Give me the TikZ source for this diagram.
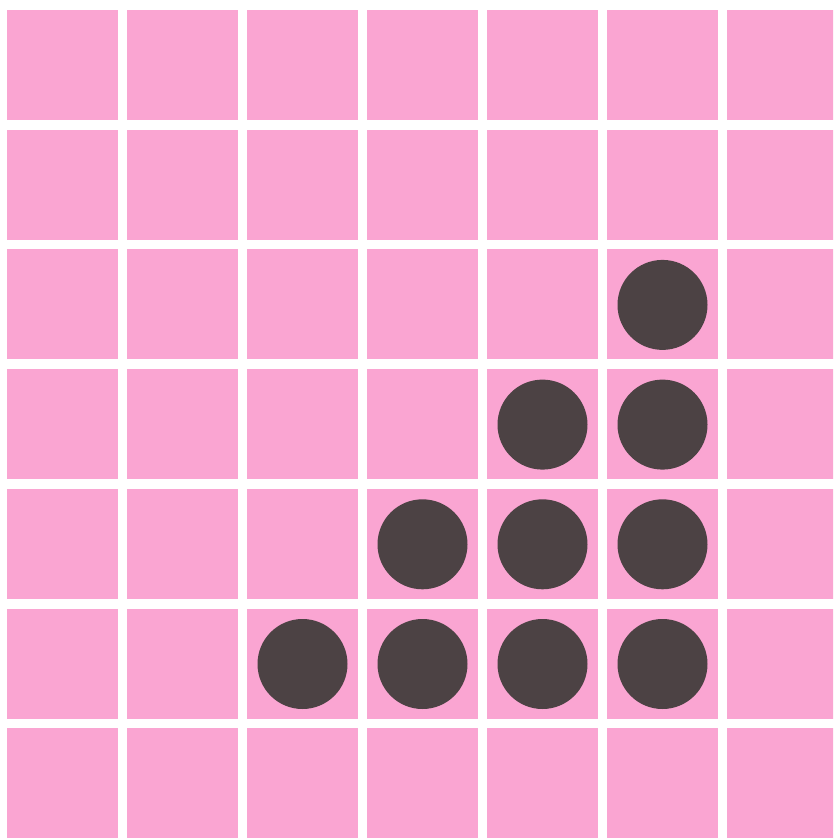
\documentclass[tikz,border=0pt]{standalone}
\definecolor{cellpink}{RGB}{250,165,210}
\definecolor{stone}{RGB}{76,66,68}
\tikzset{
  cell/.style={fill=cellpink, draw=none},
  piece/.style={circle, fill=stone, draw=none, minimum size=90pt, inner sep=0pt}
}
\begin{document}
\begin{tikzpicture}[x=1pt,y=-1pt]
\useasboundingbox (0,0) rectangle (833,838);
\clip (0,0) rectangle (833,838);
\fill[white] (0,0) rectangle (833,838);
\foreach \c in {0,...,6}{
  \foreach \r in {0,...,6}{
    \pgfmathsetmacro{\xa}{7+120*\c}
    \pgfmathsetmacro{\ya}{10+119.7*\r}
    \fill[cell] (\xa,\ya) rectangle ++(110.5,110);
  }
}
\foreach \c/\r/\n in {5/2/a, 4/3/b, 5/3/c, 3/4/d, 4/4/e, 5/4/f, 2/5/g, 3/5/h, 4/5/i, 5/5/j}{
  \pgfmathsetmacro{\xc}{62.5+120*\c}
  \pgfmathsetmacro{\yc}{65.5+119.7*\r}
  \node[piece] (p\n) at (\xc,\yc) {};
}
\end{tikzpicture}
\end{document}
